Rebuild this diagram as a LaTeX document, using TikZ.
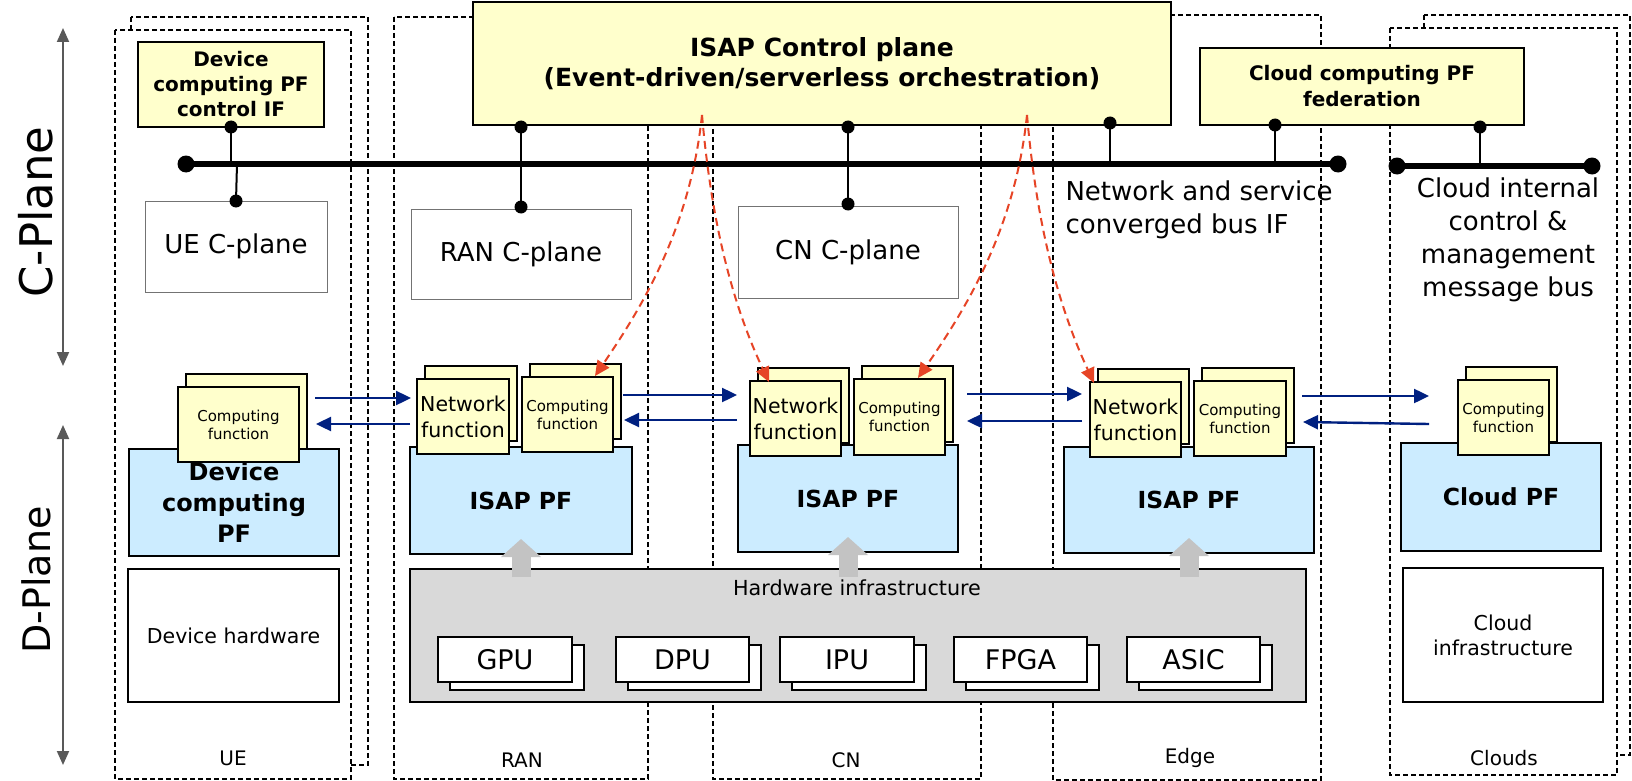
\documentclass[tikz,border=0pt]{standalone}
\usepackage{fontspec}
\setmainfont{DejaVu Sans}
\usetikzlibrary{arrows.meta}
\definecolor{padyellow}{RGB}{255,255,204}
\definecolor{pfblue}{RGB}{204,236,255}
\definecolor{hwgrey}{RGB}{217,217,217}
\definecolor{upgrey}{RGB}{195,195,195}
\definecolor{flowblue}{RGB}{0,32,128}
\definecolor{trigred}{RGB}{230,68,38}
\definecolor{axisgrey}{RGB}{89,89,89}
\newcommand{\fs}[2]{\fontsize{#1}{#2}\selectfont}
% box from corner (x1,y1) to corner (x2,y2): style, name, x1, y1, x2, y2, text
\newcommand{\mkbox}[7]{%
  \node[#1, minimum width={(#5)-(#3)}, minimum height={(#6)-(#4)},
        inner sep=0pt, outer sep=0pt] (#2) at ({((#3)+(#5))/2},{((#4)+(#6))/2}) {#7};}
% stacked function card: a plain card behind, the labelled one in front
\newcommand{\mkcard}[7]{%
  \mkbox{fnbox}{#2b}{#3+8}{#4-13}{#5+8}{#6-13}{}%
  \mkbox{fnbox,#1}{#2}{#3}{#4}{#5}{#6}{#7}}
% stacked accelerator card
\newcommand{\mkchip}[6]{%
  \mkbox{chip}{#1b}{#2+12}{#3+8}{#4+12}{#5+8}{}%
  \mkbox{chip,font=\fs{27}{30}}{#1}{#2}{#3}{#4}{#5}{#6}}
\begin{document}
\begin{tikzpicture}[x=1pt,y=-1pt,
  colframe/.style={draw, dash pattern=on 5pt off 3pt, line width=1.4pt},
  ybox/.style={draw, fill=padyellow, line width=2.2pt, align=center, font=\bfseries},
  fnbox/.style={draw, fill=padyellow, line width=1.8pt, align=center},
  pfbox/.style={draw, fill=pfblue, line width=1.6pt, align=center, font=\bfseries\fs{23.5}{30}},
  cpbox/.style={draw=black!55, fill=white, line width=1pt, font=\fs{26}{30}},
  hwbox/.style={draw, fill=white, line width=1.8pt, align=center, font=\fs{20.5}{25}},
  chip/.style={draw, fill=white, line width=1.6pt},
  nf/.style={font=\fs{20.5}{26}},
  cf/.style={font=\fs{15}{18}},
  bus/.style={line width=6pt},
  tap/.style={line width=2pt},
  flow/.style={draw=flowblue, line width=2.4pt, -{Triangle[length=15pt,width=14pt]}},
  trig/.style={draw=trigred, line width=2pt, dash pattern=on 8pt off 5pt,
               -{Triangle[length=15pt,width=14pt]}},
  axis/.style={draw=axisgrey, line width=2pt,
               {Triangle[length=14pt,width=12pt]}-{Triangle[length=14pt,width=12pt]}},
  hwup/.style={draw=upgrey, line width=19pt, -{Triangle[length=18pt,width=39pt]}},
  collabel/.style={font=\fs{20}{24}},
  buslabel/.style={font=\fs{26}{33}}
]
\useasboundingbox (0,0) rectangle (1632,781);

% ---- domain frames ----
\draw[colframe] (131,17) rectangle (368,765);
\draw[colframe, fill=white] (115,30) rectangle (351,779);
\draw[colframe] (394,17) rectangle (648,779);
\draw[colframe] (713,17) rectangle (981,779);
\draw[colframe] (1053,15) rectangle (1321,780);
\draw[colframe] (1424,15) rectangle (1630,755);
\draw[colframe, fill=white] (1390,28) rectangle (1617,775);

% ---- control boxes ----
\mkbox{ybox, font=\bfseries\fs{25}{30}}{isap}{473}{2}{1171}{125}{ISAP Control plane\\(Event-driven/serverless orchestration)}
\mkbox{ybox, font=\bfseries\fs{20}{26}}{ccfed}{1200}{48}{1524}{125}{Cloud computing PF\\federation}
\mkbox{ybox, font=\bfseries\fs{20}{25}}{ctlif}{138}{42}{324}{127}{Device\\computing PF\\control IF}

% ---- C-plane boxes ----
\mkbox{cpbox}{ueC}{145}{201}{327}{292}{UE C-plane}
\mkbox{cpbox}{ranC}{411}{209}{631}{299}{RAN C-plane}
\mkbox{cpbox}{cnC}{738}{206}{958}{298}{CN C-plane}

% ---- buses ----
\coordinate (busL) at (186,164);
\coordinate (busR) at (1338,164);
\coordinate (cbusL) at (1397,166);
\coordinate (cbusR) at (1592,166);
\draw[bus] (busL) -- (busR);
\draw[bus] (cbusL) -- (cbusR);
\fill (busL) circle (8.5) (busR) circle (8.5) (cbusL) circle (8.5) (cbusR) circle (8.5);

% taps onto the buses
\coordinate (t1) at (1110,123);
\coordinate (t2) at (1275,125);
\coordinate (t3) at (1480,127);
\draw[tap] (ctlif.south) -- (ctlif.south |- busL);
\draw[tap] ([xshift=6pt]ctlif.south |- busL) -- (ueC.north);
\draw[tap] (ranC.north |- isap.south) -- (ranC.north);
\draw[tap] (cnC.north |- isap.south) -- (cnC.north);
\draw[tap] (t1) -- (t1 |- busL);
\draw[tap] (t2) -- (t2 |- busL);
\draw[tap] (t3) -- (t3 |- cbusL);
\fill (ctlif.south) circle (6.5) (ueC.north) circle (6.5)
      ([yshift=-2pt]ranC.north |- isap.south) circle (6.5) ([yshift=2pt]ranC.north) circle (6.5)
      ([yshift=-2pt]cnC.north |- isap.south) circle (6.5) ([yshift=2pt]cnC.north) circle (6.5)
      (t1) circle (6.5) (t2) circle (6.5) (t3) circle (6.5);

\node[buslabel, align=left, anchor=west] (nsbus) at (1062,210) {Network and service\\converged bus IF};
\node[buslabel, align=center] (cibus) at (1508,240) {Cloud internal\\control \&\\management\\message bus};

% ---- platforms ----
\mkbox{pfbox, font=\bfseries\fs{24}{31}}{devPF}{129}{449}{339}{556}{Device\\computing\\PF}
\mkbox{pfbox}{ranPF}{410}{447}{632}{554}{ISAP PF}
\mkbox{pfbox}{cnPF}{738}{445}{958}{552}{ISAP PF}
\mkbox{pfbox}{edgePF}{1064}{447}{1314}{553}{ISAP PF}
\mkbox{pfbox}{cloudPF}{1401}{443}{1601}{551}{Cloud PF}

% ---- function cards ----
\mkcard{cf}{ueCF}{178}{387}{299}{462}{Computing\\function}
\mkcard{nf}{ranNF}{417}{379}{509}{454}{Network\\function}
\mkcard{cf}{ranCF}{522}{377}{613}{452}{Computing\\function}
\mkcard{nf}{cnNF}{750}{381}{841}{456}{Network\\function}
\mkcard{cf}{cnCF}{854}{379}{945}{455}{Computing\\function}
\mkcard{nf}{edgeNF}{1090}{382}{1181}{457}{Network\\function}
\mkcard{cf}{edgeCF}{1194}{381}{1286}{456}{Computing\\function}
\mkcard{cf}{cloudCF}{1458}{380}{1549}{455}{Computing\\function}

% ---- infrastructure ----
\mkbox{hwbox}{devHW}{128}{569}{339}{702}{Device hardware}
\mkbox{hwbox}{cloudHW}{1403}{568}{1603}{702}{Cloud\\infrastructure}
\mkbox{draw, fill=hwgrey, line width=1.8pt}{hw}{410}{569}{1306}{702}{}
\node[font=\fs{20.7}{24}] (hwlabel) at (857,588) {Hardware infrastructure};
\mkchip{gpu}{438}{637}{572}{682}{GPU}
\mkchip{dpu}{616}{637}{749}{682}{DPU}
\mkchip{ipu}{780}{637}{914}{682}{IPU}
\mkchip{fpga}{954}{637}{1087}{682}{FPGA}
\mkchip{asic}{1127}{637}{1260}{682}{ASIC}

\draw[hwup] ([yshift=-8pt]hw.north -| ranPF.south) -- ([yshift=15pt]ranPF.south);
\draw[hwup] ([yshift=-8pt]hw.north -| cnPF.south) -- ([yshift=15pt]cnPF.south);
\draw[hwup] ([yshift=-8pt]hw.north -| edgePF.south) -- ([yshift=15pt]edgePF.south);

% ---- domain names ----
\node[collabel] (lUE) at (233,758) {UE};
\node[collabel] (lRAN) at (522,760) {RAN};
\node[collabel] (lCN) at (846,760) {CN};
\node[collabel] (lEdge) at (1190,758) {Edge};
\node[collabel] (lCloud) at (1504,758) {Clouds};

% ---- data-plane exchanges ----
\coordinate (f1s) at (315,398);  \coordinate (f1e) at (411,398);
\coordinate (f2s) at (410,424);  \coordinate (f2e) at (316,424);
\coordinate (f3s) at (623,395);  \coordinate (f3e) at (737,395);
\coordinate (f4s) at (737,420);  \coordinate (f4e) at (624,420);
\coordinate (f5s) at (967,394);  \coordinate (f5e) at (1082,394);
\coordinate (f6s) at (1082,421); \coordinate (f6e) at (967,421);
\coordinate (f7s) at (1302,396); \coordinate (f7e) at (1429,396);
\coordinate (f8s) at (1429,424); \coordinate (f8e) at (1303,422);
\foreach \i in {1,...,8} { \draw[flow] (f\i s) -- (f\i e); }

% ---- event triggers from the control plane ----
\coordinate (oA) at (702,115);
\coordinate (oB) at (1027,115);
\coordinate (gA1) at (595,376);
\coordinate (gA2) at (769,382);
\coordinate (gB1) at (918,378);
\coordinate (gB2) at (1094,383);
\draw[trig] (oA) .. controls (690,230) and (640,310) .. (gA1);
\draw[trig] (oA) .. controls (712,230) and (735,310) .. (gA2);
\draw[trig] (oB) .. controls (1015,230) and (965,310) .. (gB1);
\draw[trig] (oB) .. controls (1037,230) and (1060,310) .. (gB2);

% ---- plane axes ----
\coordinate (cTop) at (63,28);
\coordinate (cBot) at (63,366);
\coordinate (dTop) at (63,425);
\coordinate (dBot) at (63,765);
\draw[axis] (cTop) -- (cBot);
\draw[axis] (dTop) -- (dBot);
\node[rotate=90, font=\fs{45}{50}] (cplane) at (36,212) {C-Plane};
\node[rotate=90, font=\fs{38}{44}] (dplane) at (36,580) {D-Plane};
\end{tikzpicture}
\end{document}
